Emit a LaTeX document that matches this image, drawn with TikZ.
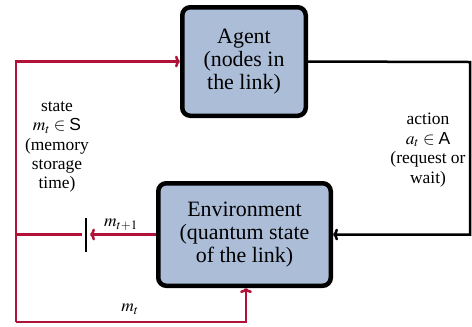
\documentclass[tikz,border=0pt]{standalone}
\usepackage{mathptmx}
\usepackage{fontspec}
\setmainfont{Liberation Serif}
\setsansfont{Liberation Sans}
\usetikzlibrary{arrows.meta}
\definecolor{boxfill}{RGB}{172,189,216}
\definecolor{linkred}{RGB}{176,18,58}
\begin{document}
\begin{tikzpicture}[x=1bp,y=-1bp,
  box/.style={draw=black, line width=4.5bp, rounded corners=8bp, fill=boxfill,
    align=center, font=\fontsize{22}{23}\selectfont, inner sep=0pt},
  redline/.style={draw=linkred, line width=2.5bp},
  blackline/.style={draw=black, line width=2.5bp},
  tipped/.style={-{To[length=5bp,width=12bp]}},
  lbl/.style={align=center, font=\fontsize{17.5}{19.5}\selectfont, inner sep=0pt}]
\useasboundingbox (0,0) rectangle (472,326);
\node[box, minimum width=123.5bp, minimum height=108.5bp] (agent) at (244,61.5)
  {Agent\\(nodes in\\the link)};
\node[box, minimum width=172.5bp, minimum height=102.5bp] (env) at (244.5,234.5)
  {Environment\\(quantum state\\of the link)};
\coordinate (corner) at (16,322);
\coordinate (split) at (16,234.5);
\coordinate (tipend) at (90,234.5);
\coordinate (gapend) at (82,234.5);
\coordinate (bartop) at (86,218);
\coordinate (barbot) at (86,252);
\coordinate (turn) at (470,62);
\draw[redline, tipped] (corner) |- (agent.west);
\draw[redline, tipped] (corner) -| ([xshift=1.5bp]env.south);
\draw[redline, tipped] (env.west) -- (tipend);
\draw[redline] (gapend) -- (split);
\draw[line width=1.5bp] (bartop) -- (barbot);
\draw[blackline, tipped] (agent.east) -- (turn) |- (env.east);
\node[lbl] (statelbl) at (57,147) {state\\$m_t \in \textsf{S}$\\(memory\\storage\\time)};
\node[lbl] (actlbl) at (428,150) {action\\$a_t \in \textsf{A}$\\(request or\\wait)};
\node[lbl] (mnext) at (121,225) {$m_{t+1}$};
\node[lbl] (mcur) at (130,309) {$m_t$};
\end{tikzpicture}
\end{document}
